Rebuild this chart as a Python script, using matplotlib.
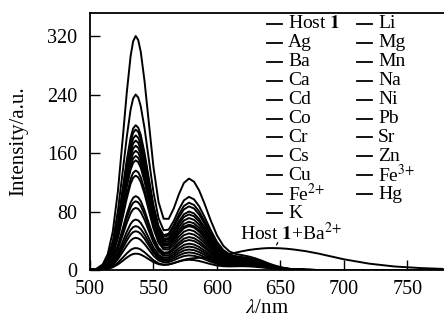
import numpy as np
import matplotlib
matplotlib.use("Agg")
import matplotlib.pyplot as plt
from matplotlib.lines import Line2D

plt.rcParams['font.family'] = ['Liberation Serif', 'DejaVu Serif']
plt.rcParams['mathtext.fontset'] = 'stix'

# ---------------- data ----------------
# sample wavelengths (nm)
wl = [500, 505, 510, 514, 518, 522, 526, 529, 532, 534, 536, 538, 540, 543, 546,
      550, 554, 558, 562, 566, 570, 574, 578, 582, 586, 590, 595, 600, 605, 610,
      615, 620, 625, 630, 635, 640, 645, 650, 655, 660, 670, 680, 690, 700, 720,
      740, 760, 778]

# normalised band profiles sampled at wl
band_535 = [0.001, 0.005, 0.024, 0.068, 0.166, 0.338, 0.575, 0.76, 0.915, 0.978, 1.0,
            0.982, 0.93, 0.80, 0.635, 0.41, 0.23, 0.111, 0.047, 0.017, 0.005, 0.0014,
            0.0003, 0, 0, 0, 0, 0, 0, 0, 0, 0, 0, 0, 0, 0, 0, 0, 0, 0, 0, 0, 0, 0, 0,
            0, 0, 0]
band_578 = [0, 0, 0, 0, 0, 0, 0, 0.0005, 0.001, 0.002, 0.0036, 0.006, 0.01, 0.02, 0.038,
            0.081, 0.158, 0.278, 0.44, 0.63, 0.815, 0.95, 1.0, 0.965, 0.867, 0.726,
            0.526, 0.34, 0.198, 0.103, 0.048, 0.02, 0.0074, 0.0025, 0.001, 0, 0, 0, 0,
            0, 0, 0, 0, 0, 0, 0, 0, 0]
band_622 = [0, 0, 0, 0, 0, 0, 0, 0, 0, 0, 0, 0, 0, 0, 0, 0, 0, 0, 0, 0, 0.001, 0.003,
            0.007, 0.017, 0.037, 0.073, 0.156, 0.29, 0.478, 0.69, 0.88, 0.99, 0.98,
            0.88, 0.72, 0.53, 0.36, 0.22, 0.12, 0.06, 0.011, 0.001, 0, 0, 0, 0, 0, 0]
band_ba = [0, 0, 0.002, 0.003, 0.004, 0.005, 0.007, 0.008, 0.01, 0.012, 0.013, 0.015,
           0.017, 0.02, 0.025, 0.035, 0.045, 0.06, 0.075, 0.095, 0.12, 0.15, 0.18,
           0.22, 0.27, 0.32, 0.40, 0.49, 0.59, 0.69, 0.78, 0.85, 0.91, 0.95, 0.98,
           1.0, 1.0, 0.99, 0.97, 0.94, 0.86, 0.75, 0.62, 0.49, 0.29, 0.16, 0.09, 0.05]

labels = ['Host $\\mathbf{1}$', 'Ag', 'Ba', 'Ca', 'Cd', 'Co', 'Cr', 'Cs', 'Cu',
          'Fe$^{2{+}}$', 'K', 'Li', 'Mg', 'Mn', 'Na', 'Ni', 'Pb', 'Sr', 'Zn',
          'Fe$^{3{+}}$', 'Hg']
h535 = [150, 198, 22, 184, 320, 170, 163, 240, 156, 136, 192, 177, 129, 101, 94,
        85, 69, 60, 53, 44, 30]
h578 = [60, 92, 10, 80, 125, 71, 66, 100, 62, 55, 87, 76, 50, 45, 41, 36, 32, 28,
        24, 20, 14]
h622 = [12, 15, 0, 14, 18, 13, 13, 16, 12, 11, 15, 14, 11, 10, 10, 9, 8, 8, 7, 6, 5]
h_ba = [0, 0, 30, 0, 0, 0, 0, 0, 0, 0, 0, 0, 0, 0, 0, 0, 0, 0, 0, 0, 0]

xticks = [500, 550, 600, 650, 700, 750]
yticks = [0, 80, 160, 240, 320]

# ---------------- figure ----------------
W, H = 444, 322
fig = plt.figure(figsize=(W / 100, H / 100), dpi=100)
ax = fig.add_axes([90 / W, 52 / H, 354 / W, 257 / H])

wl_a = np.array(wl, float)
b1, b2, b3, b4 = (np.array(b, float) for b in (band_535, band_578, band_622, band_ba))
for i, lab in enumerate(labels):
    y = h535[i] * b1 + h578[i] * b2 + h622[i] * b3 + h_ba[i] * b4
    ax.plot(wl_a, y, color='black', lw=1.4, solid_joinstyle='round')

ax.set_xlim(500, 779)
ax.set_ylim(0, 352)
ax.set_xticks(xticks)
ax.set_yticks(yticks)
ax.tick_params(direction='in', length=7, width=1.0, labelsize=14.5, pad=7)
ax.tick_params(axis='y', pad=9)
for s in ('top', 'left', 'bottom'):
    ax.spines[s].set_linewidth(1.3)
ax.spines['right'].set_visible(False)

ax.set_xlabel('$\\lambda$/nm', fontsize=15, labelpad=0)
ax.set_ylabel('Intensity/a.u.', fontsize=15, labelpad=14)

# manual legend (two columns)
def fx(px):
    return px / W

def fy(py):
    return 1 - py / H

col_line_x = [267, 357]
col_text_x = [288, 378]
row0, drow = 24, 18.9
for i, lab in enumerate(labels):
    c, r = (0, i) if i < 11 else (1, i - 11)
    yc = row0 + r * drow
    fig.add_artist(Line2D([fx(col_line_x[c]), fx(col_line_x[c] + 15)], [fy(yc), fy(yc)],
                          color='black', lw=1.3, transform=fig.transFigure))
    fig.text(fx(col_text_x[c]), fy(yc), lab, fontsize=14, va='center', ha='left')

# annotation for Ba curve
ax.annotate('Host $\\mathbf{1}$+Ba$^{2{+}}$', xy=(646, 31), xytext=(618, 51),
            fontsize=14, va='center', ha='left')
ax.annotate('', xy=(646, 31), xytext=(649, 41),
            arrowprops=dict(arrowstyle='-', lw=0.9, color='black'))

fig.savefig('out.png', dpi=100)
